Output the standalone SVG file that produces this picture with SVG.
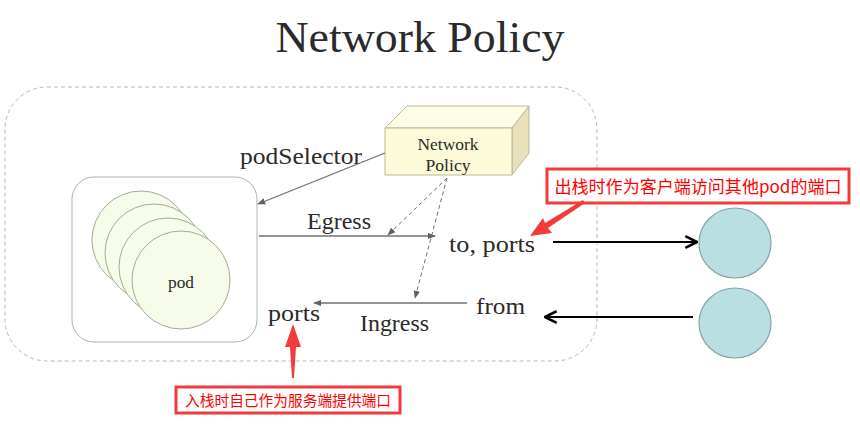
<svg xmlns="http://www.w3.org/2000/svg" width="860" height="433" viewBox="0 0 860 433">
<style>
.serif{font-family:"Liberation Serif","DejaVu Serif",serif;fill:#2a2a2a}
.cjk{font-family:"Noto Sans CJK SC","Noto Sans",sans-serif;fill:#ff0000}
.gl{stroke:#707070;stroke-width:1.3;fill:none}
.gd{stroke:#707070;stroke-width:1;stroke-dasharray:4,3;fill:none}
.bl{stroke:#000;stroke-width:2.2;fill:none}
.pod{fill:#f6fbea;stroke:#a0ab98;stroke-width:1}
.peer{fill:#b9dfe2;stroke:#86a3a6;stroke-width:1.2}
.call{fill:#fff;stroke:#f23a3a;stroke-width:3}
.ra{fill:#f33b3b}
</style>
<defs>
<marker id="ga" viewBox="0 0 10 10" refX="9" refY="5" markerWidth="8" markerHeight="8" orient="auto" markerUnits="userSpaceOnUse"><path d="M0,1 L10,5 L0,9 Z" fill="#606060"/></marker>
<marker id="ba" viewBox="0 0 12 12" refX="11" refY="6" markerWidth="14" markerHeight="14" orient="auto" markerUnits="userSpaceOnUse"><path d="M1,1 L11,6 L1,11" fill="none" stroke="#000" stroke-width="2.2"/></marker>
</defs>
<rect width="860" height="433" fill="#fff"/>
<text class="serif" x="420" y="52" font-size="45" text-anchor="middle" textLength="289" lengthAdjust="spacingAndGlyphs">Network Policy</text>
<rect id="boundary" x="5" y="87" width="592" height="274" rx="42" fill="none" stroke="#b8b8b8" stroke-width="1" stroke-dasharray="4,3"/>
<g id="podgroup">
<rect x="72" y="177" width="185" height="165" rx="22" fill="#fff" stroke="#b0b0b0" stroke-width="1"/>
<circle class="pod" cx="141" cy="240" r="49"/>
<circle class="pod" cx="154" cy="253" r="49"/>
<circle class="pod" cx="168" cy="267" r="49"/>
<circle class="pod" cx="181" cy="280" r="49"/>
<text class="serif" x="181" y="288" font-size="17" text-anchor="middle" textLength="26" lengthAdjust="spacingAndGlyphs">pod</text>
</g>
<g id="networkpolicy">
<polygon points="385,128 407,106 529,106 512,128" fill="#fdfce6" stroke="#bcb89c" stroke-width="1"/>
<polygon points="512,128 529,106 529,153 512,175" fill="#e8dfbb" stroke="#bcb89c" stroke-width="1"/>
<rect x="385" y="128" width="127" height="47" fill="#fcfad8" stroke="#bcb89c" stroke-width="1"/>
<text class="serif" x="448" y="150" font-size="16" text-anchor="middle" textLength="61" lengthAdjust="spacingAndGlyphs">Network</text>
<text class="serif" x="448" y="171" font-size="16" text-anchor="middle" textLength="45" lengthAdjust="spacingAndGlyphs">Policy</text>
</g>
<g id="peer1"><ellipse class="peer" cx="735" cy="243" rx="36" ry="35"/></g>
<g id="peer2"><ellipse class="peer" cx="735" cy="323" rx="36" ry="35"/></g>
<g id="labels">
<text class="serif" x="240" y="164" font-size="23" textLength="122" lengthAdjust="spacingAndGlyphs">podSelector</text>
<text class="serif" x="307" y="229" font-size="23" textLength="64" lengthAdjust="spacingAndGlyphs">Egress</text>
<text class="serif" x="449" y="252" font-size="23" textLength="86" lengthAdjust="spacingAndGlyphs">to, ports</text>
<text class="serif" x="476" y="314" font-size="23" textLength="49" lengthAdjust="spacingAndGlyphs">from</text>
<text class="serif" x="268" y="321" font-size="23" textLength="52" lengthAdjust="spacingAndGlyphs">ports</text>
<text class="serif" x="360" y="331" font-size="23" textLength="69" lengthAdjust="spacingAndGlyphs">Ingress</text>
</g>
<g id="connectors">
<line class="gl" x1="385" y1="153" x2="258" y2="204" marker-end="url(#ga)"/>
<line class="gl" x1="259" y1="236" x2="435" y2="236" marker-end="url(#ga)"/>
<line class="gd" x1="447" y1="178" x2="388" y2="235" marker-end="url(#ga)"/>
<line class="gd" x1="447" y1="178" x2="415" y2="298" marker-end="url(#ga)"/>
<line class="gl" x1="467" y1="303" x2="314" y2="303" marker-end="url(#ga)"/>
<line class="bl" x1="553" y1="242" x2="697" y2="242" marker-end="url(#ba)"/>
<line class="bl" x1="693" y1="317" x2="545" y2="317" marker-end="url(#ba)"/>
</g>
<g id="callout1">
<rect class="call" x="547" y="169" width="302" height="34"/>
<text class="cjk" x="698" y="193" font-size="17" text-anchor="middle" textLength="287" lengthAdjust="spacingAndGlyphs">出栈时作为客户端访问其他pod的端口</text>
<polygon class="ra" points="585,203 548,228 552,233 530,236 543,218 545,223 583,200"/>
</g>
<g id="callout2">
<rect class="call" x="176" y="387" width="224" height="26"/>
<text class="cjk" x="288" y="406" font-size="15" text-anchor="middle" textLength="206" lengthAdjust="spacingAndGlyphs">入栈时自己作为服务端提供端口</text>
<polygon class="ra" points="292,378 290,347 285,347 293,324 301,347 296,347 294,378"/>
</g>
</svg>
